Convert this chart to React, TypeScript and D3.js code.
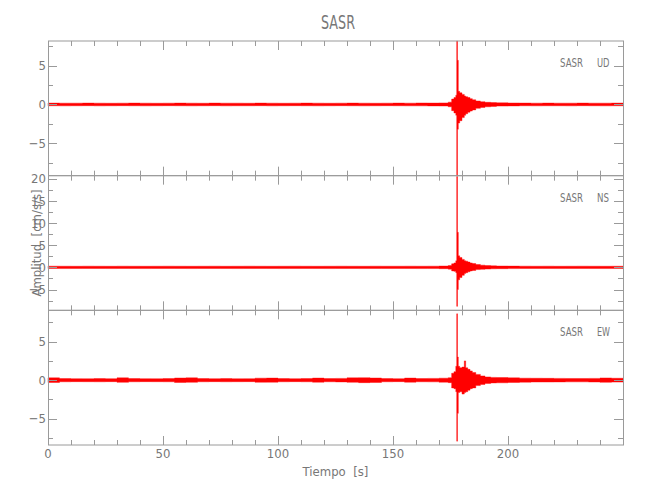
import React from 'react';
import * as d3 from 'd3';

const chartTitle = 'SASR';
const stationName = 'SASR';
const componentNames = ['UD', 'NS', 'EW'];
const xTickLabels = [0, 50, 100, 150, 200];
const xLabel = 'Tiempo  [s]';
const yLabel = 'Amplitud  [cm/s/s]';

// bin start times (s); envelope per bin
const times = [
  0, 5, 10, 15, 20, 25, 30, 35, 40, 45, 50, 55, 60, 65, 70, 75, 80, 85, 90, 95,
  100, 105, 110, 115, 120, 125, 130, 135, 140, 145, 150, 155, 160, 165, 170,
  174, 175.5, 176.5, 177.3, 177.7, 178.05, 178.4, 179, 180, 181, 181.6, 182.5, 183.5, 184.5, 186, 188, 190, 192.5,
  195, 200, 205, 210, 215, 220, 225, 230, 235, 240, 245, 250,
];

const udMax = [
  0.18, 0.17, 0.17, 0.18, 0.17, 0.16, 0.17, 0.18, 0.17, 0.16, 0.17, 0.18, 0.17, 0.16, 0.18, 0.17, 0.17, 0.16, 0.18, 0.17,
  0.16, 0.17, 0.18, 0.17, 0.16, 0.17, 0.18, 0.17, 0.16, 0.17, 0.18, 0.17, 0.19, 0.18, 0.2,
  0.3, 0.7, 0.9, 1.2, 8.2, 5.7, 1.7, 1.5, 1.3, 1.1, 1.0, 0.9, 0.75, 0.6, 0.45, 0.35, 0.28, 0.24,
  0.21, 0.19, 0.18, 0.17, 0.18, 0.17, 0.17, 0.18, 0.17, 0.17, 0.18, 0.17,
];
const udMin = [
  -0.17, -0.18, -0.17, -0.16, -0.18, -0.17, -0.16, -0.17, -0.18, -0.17, -0.16, -0.17, -0.18, -0.17, -0.16, -0.18, -0.17, -0.17, -0.16, -0.18,
  -0.17, -0.16, -0.17, -0.18, -0.17, -0.16, -0.17, -0.18, -0.17, -0.16, -0.17, -0.18, -0.18, -0.19, -0.2,
  -0.3, -0.8, -1.1, -1.4, -9.3, -3.2, -2.4, -2.1, -1.7, -1.4, -1.2, -1.0, -0.85, -0.7, -0.5, -0.38, -0.3, -0.25,
  -0.21, -0.19, -0.17, -0.18, -0.17, -0.17, -0.18, -0.16, -0.17, -0.18, -0.17, -0.17,
];

const nsMax = [
  0.27, 0.26, 0.25, 0.27, 0.26, 0.25, 0.27, 0.26, 0.25, 0.26, 0.27, 0.26, 0.25, 0.26, 0.27, 0.25, 0.26, 0.27, 0.26, 0.25,
  0.26, 0.27, 0.26, 0.25, 0.26, 0.27, 0.26, 0.25, 0.27, 0.26, 0.26, 0.27, 0.26, 0.27, 0.3,
  0.4, 0.8, 1.0, 1.5, 20.4, 7.9, 2.6, 2.2, 1.8, 1.5, 1.4, 1.2, 1.0, 0.85, 0.65, 0.5, 0.4, 0.34,
  0.3, 0.28, 0.27, 0.26, 0.27, 0.25, 0.26, 0.27, 0.26, 0.25, 0.26, 0.26,
];
const nsMin = [
  -0.26, -0.27, -0.26, -0.25, -0.26, -0.27, -0.25, -0.26, -0.27, -0.26, -0.25, -0.26, -0.27, -0.26, -0.25, -0.26, -0.27, -0.26, -0.25, -0.26,
  -0.27, -0.26, -0.25, -0.26, -0.27, -0.26, -0.25, -0.27, -0.26, -0.26, -0.25, -0.26, -0.27, -0.27, -0.3,
  -0.4, -0.8, -0.9, -1.2, -8.8, -5.0, -2.8, -2.3, -1.8, -1.4, -1.2, -1.0, -0.8, -0.7, -0.5, -0.45, -0.38, -0.33,
  -0.3, -0.28, -0.26, -0.25, -0.26, -0.27, -0.26, -0.25, -0.26, -0.27, -0.26, -0.26,
];

const ewMax = [
  0.3, 0.21, 0.2, 0.19, 0.21, 0.2, 0.3, 0.21, 0.2, 0.19, 0.21, 0.28, 0.3, 0.21, 0.2, 0.21, 0.19, 0.2, 0.26, 0.27,
  0.21, 0.2, 0.21, 0.27, 0.21, 0.23, 0.3, 0.32, 0.28, 0.21, 0.2, 0.27, 0.21, 0.23, 0.26,
  0.32, 0.9, 1.1, 1.8, 8.6, 3.0, 1.8, 1.6, 1.7, 2.5, 1.6, 1.4, 1.2, 1.0, 0.75, 0.55, 0.42, 0.36,
  0.34, 0.3, 0.26, 0.25, 0.24, 0.23, 0.22, 0.22, 0.23, 0.29, 0.25, 0.22,
];
const ewMin = [
  -0.3, -0.21, -0.19, -0.2, -0.21, -0.19, -0.28, -0.21, -0.19, -0.2, -0.21, -0.3, -0.28, -0.21, -0.19, -0.21, -0.2, -0.19, -0.27, -0.26,
  -0.21, -0.19, -0.21, -0.26, -0.21, -0.23, -0.28, -0.32, -0.3, -0.21, -0.19, -0.26, -0.21, -0.22, -0.26,
  -0.32, -1.0, -1.1, -1.5, -7.9, -4.3, -1.6, -1.5, -1.8, -1.6, -1.5, -1.3, -1.1, -1.0, -0.7, -0.55, -0.42, -0.36,
  -0.34, -0.3, -0.26, -0.24, -0.24, -0.23, -0.22, -0.22, -0.24, -0.28, -0.25, -0.22,
];

const yDomains: [number, number][] = [[-9.2, 8.2], [-9.7, 20.7], [-8.4, 9.05]];
const yTickLabels = [[-5, 0, 5], [-5, 0, 5, 10, 15, 20], [-5, 0, 5]];

const W = 650, H = 500;
const L = 48, R = 623, T = 41, B = 445;
const FONT = "'Liberation Sans Narrow', 'DejaVu Sans Condensed', 'Liberation Sans', sans-serif";
const AXIS = '#9a9a9a';
const TEXT = '#777777';

export default function App() {
  const x = d3.scaleLinear().domain([0, 250]).range([L, R]);
  const ph = (B - T) / 3;
  const series = [
    { max: udMax, min: udMin },
    { max: nsMax, min: nsMin },
    { max: ewMax, min: ewMin },
  ];
  const compLen = [12.5, 12, 13];
  const xMinor = d3.range(0, 251, 10);
  const fmt = (v: number) => (v < 0 ? '\u2212' + Math.abs(v) : String(v));

  return (
    <svg width={W} height={H} style={{ position: 'absolute', left: 0, top: 0, background: '#fff' }}>
      <rect x={0} y={0} width={W} height={H} fill="#fff" />
      {series.map((s, i) => {
        const top = T + i * ph;
        const bot = top + ph;
        const y = d3.scaleLinear().domain(yDomains[i]).range([bot, top]);
        const area = d3
          .area<number>()
          .x((_, j) => x(times[j]))
          .y0((_, j) => y(s.min[j]))
          .y1((_, j) => y(s.max[j]))
          .curve(d3.curveStepAfter);
        const [d0, d1] = yDomains[i];
        const yT = d3.range(Math.ceil(d0 / 2.5) * 2.5, d1 + 0.001, 2.5);
        return (
          <g key={i}>
            <path d={area(times.map((_, j) => j)) || ''} fill="#ff0000" stroke="#ff0000" strokeWidth={0.4} />
            <rect x={L + 0.5} y={top} width={R - L} height={ph} fill="none" stroke={AXIS} strokeWidth={1} />
            {xMinor.map((t) => {
              const len = t % 50 === 0 ? 9 : 5;
              const xx = Math.round(x(t)) + 0.5;
              return (
                <g key={'xt' + t}>
                  <line x1={xx} x2={xx} y1={top} y2={top + len} stroke={AXIS} />
                  <line x1={xx} x2={xx} y1={bot} y2={bot - len} stroke={AXIS} />
                </g>
              );
            })}
            {yT.map((v) => {
              const len = Math.abs(v % 5) < 0.001 ? 9 : 5;
              const yy = Math.round(y(v)) + 0.5;
              return (
                <g key={'yt' + v}>
                  <line x1={L} x2={L + len} y1={yy} y2={yy} stroke={AXIS} />
                  <line x1={R} x2={R - len} y1={yy} y2={yy} stroke={AXIS} />
                </g>
              );
            })}
            {yTickLabels[i].map((v) => (
              <text key={'yl' + v} x={L - 2} y={y(v)} dy="0.36em" textAnchor="end" fontFamily={FONT} fontSize={13} fill={TEXT}>
                {fmt(v)}
              </text>
            ))}
            <text x={560} y={top + 26} fontFamily={FONT} fontSize={13} fill={TEXT} textLength={23} lengthAdjust="spacingAndGlyphs">{stationName}</text>
            <text x={597} y={top + 26} fontFamily={FONT} fontSize={13} fill={TEXT} textLength={compLen[i]} lengthAdjust="spacingAndGlyphs">{componentNames[i]}</text>
          </g>
        );
      })}
      {xTickLabels.map((t) => (
        <text key={'xl' + t} x={x(t)} y={B + 13} textAnchor="middle" fontFamily={FONT} fontSize={13} fill={TEXT}>
          {t}
        </text>
      ))}
      <text x={(L + R) / 2} y={B + 31} textAnchor="middle" fontFamily={FONT} fontSize={13} fill={TEXT} style={{ whiteSpace: 'pre' }}>
        {xLabel}
      </text>
      <text transform={`translate(41, ${(T + B) / 2}) rotate(-90)`} textAnchor="middle" fontFamily={FONT} fontSize={13} fill={TEXT} style={{ whiteSpace: 'pre' }}>
        {yLabel}
      </text>
      <text x={338} y={29} textAnchor="middle" fontFamily={FONT} fontSize={20} fill={TEXT} textLength={34} lengthAdjust="spacingAndGlyphs">
        {chartTitle}
      </text>
    </svg>
  );
}
